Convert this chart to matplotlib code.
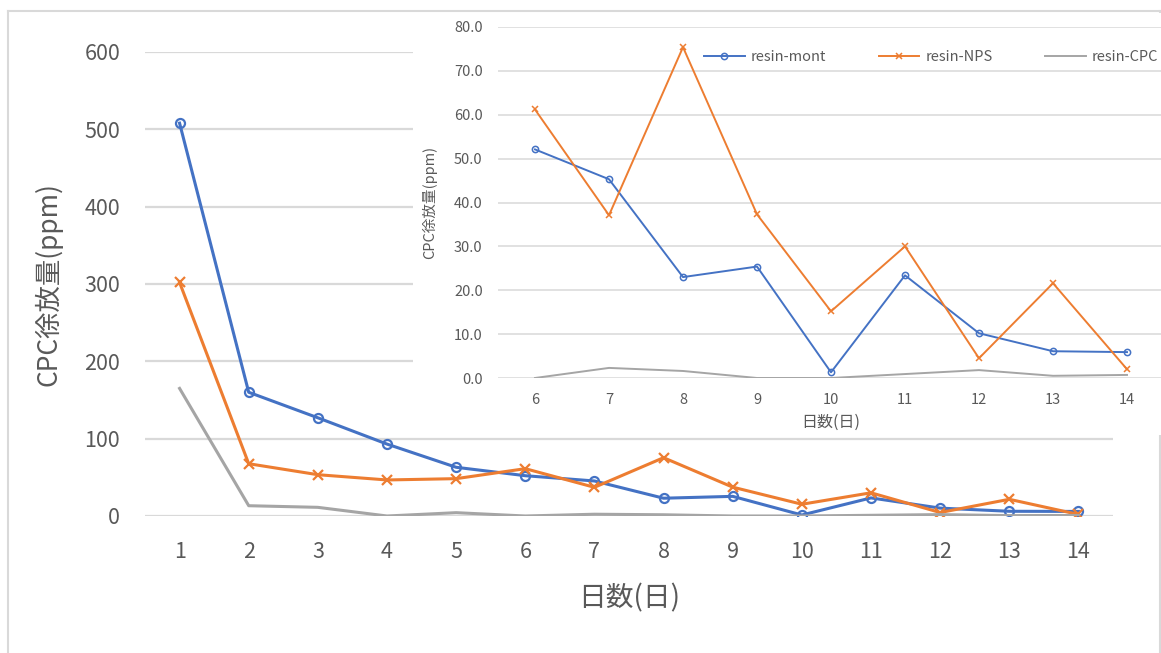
import matplotlib
matplotlib.use("Agg")
import matplotlib.pyplot as plt
from matplotlib.lines import Line2D
from matplotlib.patches import Rectangle

plt.rcParams['font.family'] = ['Noto Sans CJK JP', 'DejaVu Sans']

BLUE = "#4472C4"
ORANGE = "#ED7D31"
GRAY = "#A5A5A5"
GRID = "#D9D9D9"
TEXT = "#595959"

days = list(range(1, 15))
resin_mont = [508, 160, 127, 93, 63, 52.1, 45.3, 23.0, 25.4, 1.3, 23.4, 10.2, 6.1, 5.9]
resin_nps = [302, 67.6, 53.4, 46.6, 48.3, 61.2, 37.1, 75.4, 37.3, 15.2, 30.0, 4.5, 21.6, 2.0]
resin_cpc = [165, 13.3, 11.2, 0.0, 4.3, 0.0, 2.3, 1.6, 0.0, 0.0, 0.9, 1.8, 0.5, 0.7]

main_yticks = [0, 100, 200, 300, 400, 500, 600]
inset_yticks = [0, 10, 20, 30, 40, 50, 60, 70, 80]
inset_start = 5  # index of day 6

W, H = 1161, 653
fig = plt.figure(figsize=(W / 100, H / 100), dpi=100)
fig.patch.set_facecolor("white")


def fx(px):
    return px / W


def fy(py):
    return 1 - py / H


def style_axes(ax, grid_lw, size, pad):
    ax.set_facecolor("none")
    for s in ax.spines.values():
        s.set_visible(False)
    ax.yaxis.grid(True, color=GRID, linewidth=grid_lw)
    ax.set_axisbelow(True)
    ax.tick_params(length=0, colors=TEXT, labelsize=size, pad=pad)


# main chart
ax = fig.add_axes([fx(145), fy(516), fx(1113 - 145), (516 - 52) / H])
ax.set_zorder(0)
style_axes(ax, 1.6, 15.5, 18)
ax.plot(days, resin_mont, color=BLUE, lw=2.2, marker="o", ms=6.5,
        mfc="none", mec=BLUE, mew=1.6)
ax.plot(days, resin_nps, color=ORANGE, lw=2.2, marker="x", ms=6.5, mew=1.6)
ax.plot(days, resin_cpc, color=GRAY, lw=2.2)
ax.set_xlim(0.5, 14.5)
ax.set_ylim(0, 600)
ax.set_xticks(days)
ax.set_yticks(main_yticks)
ax.set_xlabel("日数(日)", fontsize=20, color=TEXT, labelpad=15)
ax.set_ylabel("CPC徐放量(ppm)", fontsize=19, color=TEXT, labelpad=16)

# outer chart border
for xs, ys in [([fx(8), fx(8)], [fy(11), 0]), ([fx(1160), fx(1160)], [fy(11), 0])]:
    fig.add_artist(Line2D(xs, ys, color=GRID, lw=1.5, zorder=0.5))

# white box behind the close-up of days 6-14
fig.add_artist(Rectangle((fx(413), fy(435)), 1 - fx(413), fy(13) - fy(435),
                         facecolor="white", edgecolor="none", zorder=1))
fig.add_artist(Line2D([fx(8), fx(1160)], [fy(11), fy(11)], color=GRID, lw=1.5, zorder=3))

ins = fig.add_axes([fx(498), fy(378), fx(1164 - 498), (378 - 27) / H])
ins.set_zorder(2)
style_axes(ins, 1.1, 10.5, 11)
d = days[inset_start:]
ins.plot(d, resin_mont[inset_start:], color=BLUE, lw=1.4, marker="o", ms=4.5,
         mfc="none", mec=BLUE, mew=1.1, label="resin-mont")
ins.plot(d, resin_nps[inset_start:], color=ORANGE, lw=1.4, marker="x", ms=4.5,
         mew=1.1, label="resin-NPS")
ins.plot(d, resin_cpc[inset_start:], color=GRAY, lw=1.4, label="resin-CPC")
ins.set_xlim(5.5, 14.5)
ins.set_ylim(0, 80)
ins.set_xticks(d)
ins.set_yticks(inset_yticks)
ins.set_yticklabels([f"{v:.1f}" for v in inset_yticks])
ins.set_xlabel("日数(日)", fontsize=11.5, color=TEXT, labelpad=5)
ins.set_ylabel("CPC徐放量(ppm)", fontsize=10.5, color=TEXT, labelpad=12)

leg = ins.legend(loc="center", bbox_to_anchor=(fx(931), fy(57)),
                 bbox_transform=fig.transFigure, ncol=3, frameon=False,
                 fontsize=10.5, handlelength=2.8, handletextpad=0.4,
                 columnspacing=3.6)
for t in leg.get_texts():
    t.set_color(TEXT)

fig.savefig("out.png", dpi=100, facecolor="white")
